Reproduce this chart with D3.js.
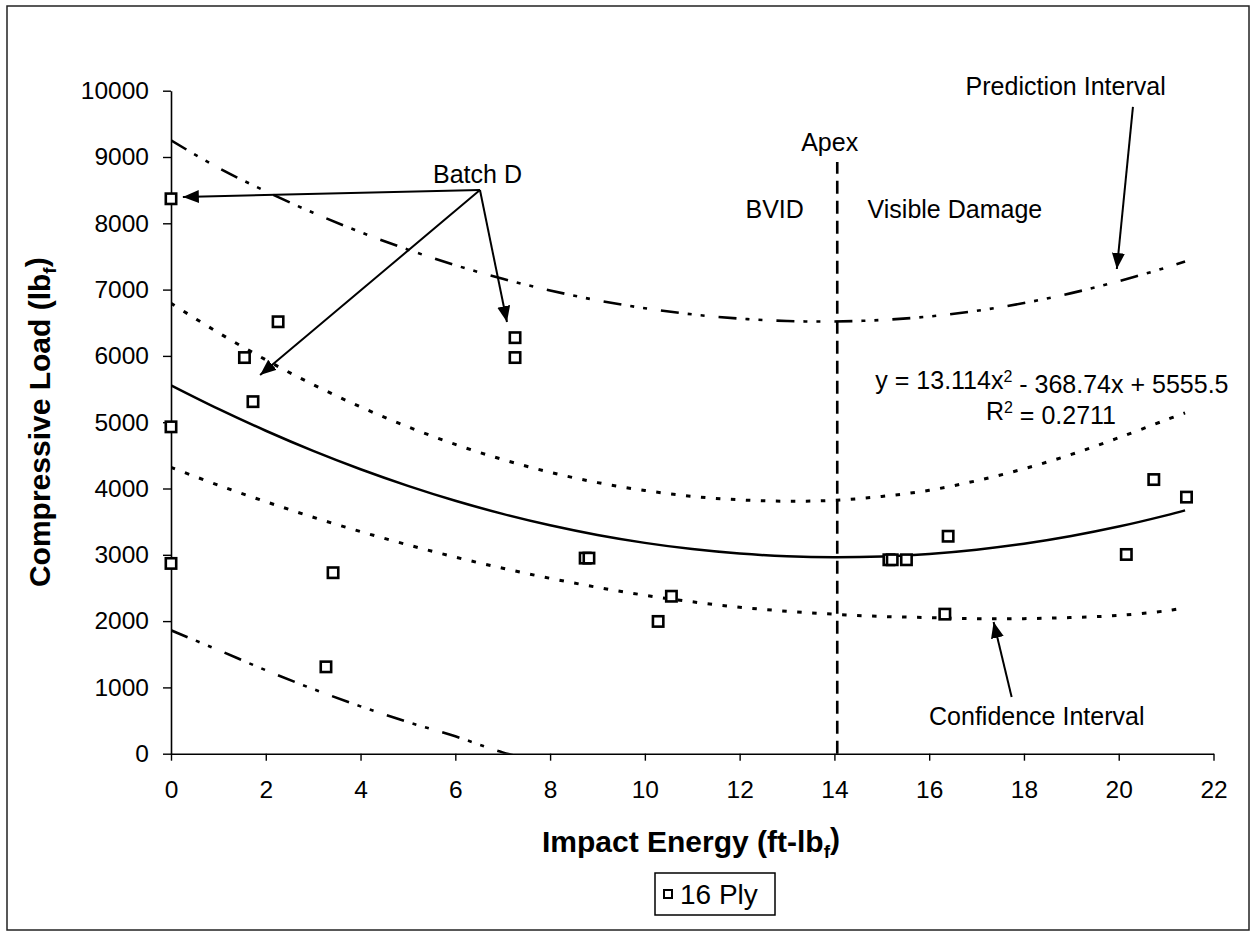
<!DOCTYPE html>
<html>
<head>
<meta charset="utf-8">
<script src="https://cdn.jsdelivr.net/npm/d3@7/dist/d3.min.js"></script>
<style>
  body { margin: 0; background: #fff; }
  svg text { font-family: "Liberation Sans", Arial, sans-serif; fill: #000; }
</style>
</head>
<body>
<svg id="chart" width="1251" height="935"></svg>
<script>
// measured points, 16 ply
const energy = [0, 0, 0, 1.55, 1.73, 2.26, 3.27, 3.42, 7.26, 7.26, 8.74, 8.82, 10.28, 10.56,
                15.15, 15.22, 15.52, 16.33, 16.40, 20.16, 20.74, 21.43];
const load = [8370, 4930, 2870, 5975, 5310, 6515, 1310, 2730, 6275, 5975, 2950, 2950, 1995, 2375,
              2925, 2925, 2925, 2105, 3280, 3005, 4135, 3870];

// trend line and intervals
const curveEnergy = [0, 1, 2, 3, 4, 5, 6, 7, 8, 9, 10, 11, 12, 13, 14, 15, 16, 17, 18, 19, 20, 21, 21.4];
const fitLoad = [5556, 5200, 4871, 4567, 4290, 4040, 3815, 3617, 3445, 3299, 3180, 3086, 3019, 2978,
                 2963, 2975, 3013, 3077, 3167, 3284, 3426, 3595, 3670];
const ciUpper = [6794, 6350, 5941, 5567, 5230, 4930, 4665, 4437, 4245, 4089, 3970, 3881, 3829, 3808,
                 3823, 3880, 3973, 4117, 4297, 4514, 4766, 5035, 5140];
const ciLower = [4318, 4050, 3801, 3567, 3350, 3150, 2965, 2797, 2645, 2509, 2390, 2291, 2209, 2148,
                 2103, 2070, 2053, 2037, 2037, 2054, 2086, 2155, 2200];
const piUpper = [9251, 8837, 8483, 8159, 7866, 7603, 7368, 7163, 6987, 6838, 6719, 6626, 6563, 6526,
                 6519, 6542, 6594, 6680, 6797, 6947, 7127, 7333, 7425];
const piLower = [1861, 1563, 1259, 975, 714, 477, 262, 20, -160, null, null, null, null, null,
                 null, null, null, null, null, null, null, null, null];

const apexEnergy = 14.06;
const apexTop = 8924;

const xTicks = [0, 2, 4, 6, 8, 10, 12, 14, 16, 18, 20, 22];
const yTicks = [0, 1000, 2000, 3000, 4000, 5000, 6000, 7000, 8000, 9000, 10000];

const svg = d3.select("#chart");
const margin = { top: 90.7, left: 171 };
const width = 1042.5, height = 663;

// outer frame
svg.append("rect")
  .attr("x", 7).attr("y", 6).attr("width", 1242).attr("height", 924)
  .attr("fill", "none").attr("stroke", "#222").attr("stroke-width", 1.5);

const g = svg.append("g").attr("transform", "translate(" + margin.left + "," + margin.top + ")");

const x = d3.scaleLinear().domain([0, 22]).range([0, width]);
const y = d3.scaleLinear().domain([0, 10000]).range([height, 0]);

const defs = svg.append("defs");
defs.append("clipPath").attr("id", "plotClip")
  .append("rect").attr("x", 0).attr("y", 0).attr("width", width).attr("height", height);
defs.append("marker")
  .attr("id", "arrow")
  .attr("markerUnits", "userSpaceOnUse")
  .attr("markerWidth", 18).attr("markerHeight", 14)
  .attr("refX", 16).attr("refY", 6.5)
  .attr("orient", "auto")
  .append("path").attr("d", "M0,0 L16,6.5 L0,13 Z").attr("fill", "#000");

// axes
const yAxis = g.append("g")
  .call(d3.axisLeft(y).tickValues(yTicks).tickFormat(d3.format("d"))
    .tickSize(8).tickSizeOuter(0).tickPadding(14));
const xAxis = g.append("g")
  .attr("transform", "translate(0," + height + ")")
  .call(d3.axisBottom(x).tickValues(xTicks).tickFormat(d3.format("d"))
    .tickSize(7).tickSizeOuter(0).tickPadding(20));

[xAxis, yAxis].forEach(function (ax) {
  ax.select(".domain").attr("stroke", "#000").attr("stroke-width", 1.6);
  ax.selectAll(".tick line").attr("stroke", "#000").attr("stroke-width", 1.4);
  ax.selectAll(".tick text")
    .attr("fill", "#000")
    .style("font-size", "24.5px")
    .style("font-family", '"Liberation Sans", Arial, sans-serif');
});

// curves
const plot = g.append("g").attr("clip-path", "url(#plotClip)");

function curveLine(vals) {
  return d3.line()
    .defined(function (d, i) { return vals[i] != null; })
    .x(function (d) { return x(d); })
    .y(function (d, i) { return y(vals[i]); })
    .curve(d3.curveCatmullRom)(curveEnergy);
}

plot.append("path")
  .attr("d", curveLine(piUpper))
  .attr("fill", "none").attr("stroke", "#000").attr("stroke-width", 2.6)
  .attr("stroke-dasharray", "18,9,4,9,4,14");
plot.append("path")
  .attr("d", curveLine(piLower))
  .attr("fill", "none").attr("stroke", "#000").attr("stroke-width", 2.6)
  .attr("stroke-dasharray", "18,9,4,9,4,14");
plot.append("path")
  .attr("d", curveLine(ciUpper))
  .attr("fill", "none").attr("stroke", "#000").attr("stroke-width", 3)
  .attr("stroke-dasharray", "4.5,10.5");
plot.append("path")
  .attr("d", curveLine(ciLower))
  .attr("fill", "none").attr("stroke", "#000").attr("stroke-width", 3)
  .attr("stroke-dasharray", "4.5,10.5");
plot.append("path")
  .attr("d", curveLine(fitLoad))
  .attr("fill", "none").attr("stroke", "#000").attr("stroke-width", 2.5);

// apex line
g.append("line")
  .attr("x1", x(apexEnergy)).attr("x2", x(apexEnergy))
  .attr("y1", y(0)).attr("y2", y(apexTop))
  .attr("stroke", "#000").attr("stroke-width", 2.6)
  .attr("stroke-dasharray", "13,7");

// points
g.selectAll("rect.pt")
  .data(energy)
  .enter()
  .append("rect")
  .attr("class", "pt")
  .attr("x", function (d) { return x(d) - 5.2; })
  .attr("y", function (d, i) { return y(load[i]) - 5.2; })
  .attr("width", 10.4).attr("height", 10.4)
  .attr("fill", "#fff").attr("stroke", "#000").attr("stroke-width", 2.6);

// annotations (positions in data units)
const arrows = [
  [6.52, 8502, 0.25, 8397],
  [6.52, 8502, 1.88, 5711],
  [6.52, 8502, 7.09, 6511],
  [20.30, 9755, 19.96, 7311],
  [17.74, 855, 17.36, 1986]
];
arrows.forEach(function (a) {
  g.append("line")
    .attr("x1", x(a[0])).attr("y1", y(a[1]))
    .attr("x2", x(a[2])).attr("y2", y(a[3]))
    .attr("stroke", "#000").attr("stroke-width", 2)
    .attr("marker-end", "url(#arrow)");
});

function label(txt, ex, ld, anchor) {
  return g.append("text")
    .attr("x", x(ex)).attr("y", y(ld))
    .attr("text-anchor", anchor)
    .style("font-size", "25px")
    .text(txt);
}
label("Batch D", 5.53, 8607, "start");
label("Prediction Interval", 18.88, 9935, "middle");
label("Apex", 13.9, 9090, "middle");
label("BVID", 12.74, 8080, "middle");
label("Visible Damage", 14.70, 8080, "start");
label("Confidence Interval", 18.27, 432, "middle");

const eq = g.append("text")
  .attr("x", x(18.59)).attr("y", y(5500))
  .attr("text-anchor", "middle")
  .style("font-size", "25px");
eq.append("tspan").text("y = 13.114x");
eq.append("tspan").attr("dy", "-0.45em").style("font-size", "16px").text("2");
eq.append("tspan").attr("dy", "0.45em").text(" - 368.74x + 5555.5");

const r2 = g.append("text")
  .attr("x", x(18.57)).attr("y", y(5032))
  .attr("text-anchor", "middle")
  .style("font-size", "25px");
r2.append("tspan").text("R");
r2.append("tspan").attr("dy", "-0.45em").style("font-size", "16px").text("2");
r2.append("tspan").attr("dy", "0.45em").text(" = 0.2711");

// axis titles
const xt = svg.append("text")
  .attr("x", 691).attr("y", 852)
  .attr("text-anchor", "middle")
  .style("font-size", "30px").style("font-weight", "bold");
xt.append("tspan").text("Impact Energy (ft-lb");
xt.append("tspan").attr("dy", "0.3em").style("font-size", "19px").text("f");
xt.append("tspan").attr("dy", "-0.3em").text(")");

const yt = svg.append("text")
  .attr("transform", "translate(50," + (margin.top + height / 2) + ") rotate(-90)")
  .attr("text-anchor", "middle")
  .style("font-size", "30px").style("font-weight", "bold");
yt.append("tspan").text("Compressive Load (lb");
yt.append("tspan").attr("dy", "0.3em").style("font-size", "19px").text("f");
yt.append("tspan").attr("dy", "-0.3em").text(")");

// legend
const leg = svg.append("g").attr("transform", "translate(655,873)");
leg.append("rect")
  .attr("width", 120).attr("height", 42)
  .attr("fill", "#fff").attr("stroke", "#000").attr("stroke-width", 1.5);
leg.append("rect")
  .attr("x", 9).attr("y", 17).attr("width", 8).attr("height", 8)
  .attr("fill", "#fff").attr("stroke", "#000").attr("stroke-width", 2);
leg.append("text")
  .attr("x", 25).attr("y", 31)
  .style("font-size", "28px")
  .text("16 Ply");
</script>
</body>
</html>
